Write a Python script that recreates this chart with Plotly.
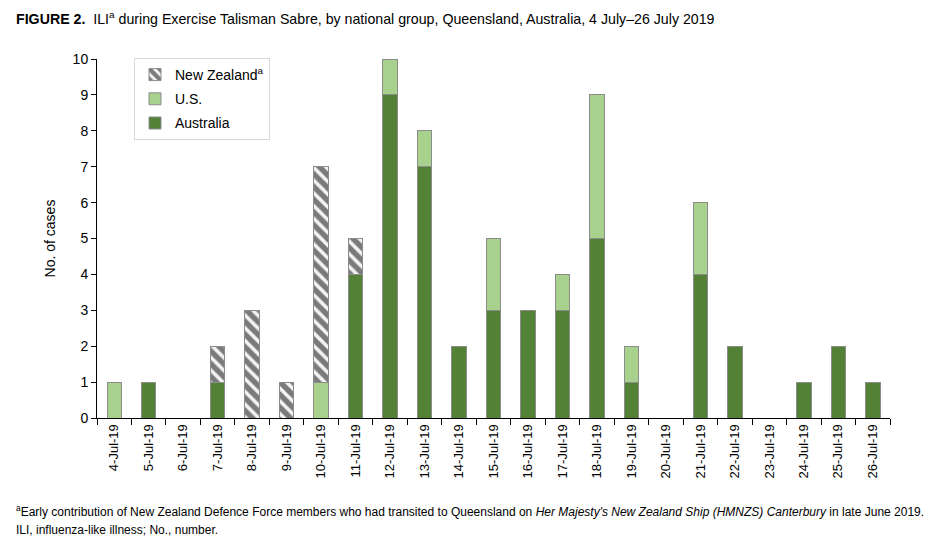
import plotly.graph_objects as go

dates = ["4-Jul-19", "5-Jul-19", "6-Jul-19", "7-Jul-19", "8-Jul-19", "9-Jul-19", "10-Jul-19",
         "11-Jul-19", "12-Jul-19", "13-Jul-19", "14-Jul-19", "15-Jul-19", "16-Jul-19", "17-Jul-19",
         "18-Jul-19", "19-Jul-19", "20-Jul-19", "21-Jul-19", "22-Jul-19", "23-Jul-19", "24-Jul-19",
         "25-Jul-19", "26-Jul-19"]
australia = [0, 1, 0, 1, 0, 0, 0, 4, 9, 7, 2, 3, 3, 3, 5, 1, 0, 4, 2, 0, 1, 2, 1]
us = [1, 0, 0, 0, 0, 0, 1, 0, 1, 1, 0, 2, 0, 1, 4, 1, 0, 2, 0, 0, 0, 0, 0]
new_zealand = [0, 0, 0, 1, 3, 1, 6, 1, 0, 0, 0, 0, 0, 0, 0, 0, 0, 0, 0, 0, 0, 0, 0]
y_ticks = list(range(0, 11))

font = "Liberation Sans, Arial, sans-serif"
narrow = "Liberation Sans Narrow, Arial Narrow, Liberation Sans, Arial, sans-serif"
outline = dict(color="#8c8c8c", width=1)

fig = go.Figure()
fig.add_trace(go.Bar(x=dates, y=australia, name="Australia", legendgroup="au", legendrank=3,
                     marker=dict(color="#538135", line=outline)))
fig.add_trace(go.Bar(x=dates, y=us, name="U.S.", legendgroup="us", legendrank=2,
                     marker=dict(color="#a9d18e", line=outline)))
fig.add_trace(go.Bar(x=dates, y=new_zealand, name="New Zealand<sup>a</sup>", legendgroup="nz",
                     legendrank=1,
                     marker=dict(color="white", line=outline,
                                 pattern=dict(shape="\\", fgcolor="black", bgcolor="#f4f4f4",
                                              size=9, solidity=0.6))))

# plot area in figure pixels: x 89..882, y 51..410 (page body adds 8px offset)
def px(x):
    return (x - 89) / 793

def py(y):
    return (410 - y) / 359

fig.update_layout(
    barmode="stack",
    bargap=0.58,
    width=946, height=551,
    paper_bgcolor="white", plot_bgcolor="white",
    margin=dict(l=89, r=64, t=51, b=141),
    font=dict(family=font, size=13, color="black"),
    showlegend=True,
    legend=dict(x=px(126), y=py(50), xanchor="left", yanchor="top",
                bordercolor="#d9d9d9", borderwidth=1, bgcolor="white",
                traceorder="grouped", tracegroupgap=3,
                font=dict(size=14, family=font), itemwidth=30),
    xaxis=dict(type="category", tickangle=-90, tickfont=dict(size=13),
               showline=True, linecolor="black", linewidth=1,
               ticks="outside", ticklen=6, tickcolor="black",
               tickson="boundaries", showgrid=False),
    yaxis=dict(range=[0, 10], tickvals=y_ticks, showline=True, linecolor="black", linewidth=1,
               ticks="outside", ticklen=5, tickcolor="black", showgrid=False, zeroline=False,
               tickfont=dict(size=14),
               title=dict(text="No. of cases", font=dict(size=14), standoff=13)),
)

fig.add_annotation(xref="paper", yref="paper", x=px(6), y=py(10), xanchor="left", yanchor="middle",
                   showarrow=False, align="left",
                   text="<b>FIGURE 2.</b>  ILI<sup>a</sup> during Exercise Talisman Sabre, by national group, Queensland, Australia, 4 July–26 July 2019",
                   font=dict(size=14.2, family=narrow))
fig.add_annotation(xref="paper", yref="paper", x=px(6), y=py(503), xanchor="left", yanchor="middle",
                   showarrow=False, align="left",
                   text="<sup>a</sup>Early contribution of New Zealand Defence Force members who had transited to Queensland on <i>Her Majesty's New Zealand Ship (HMNZS) Canterbury</i> in late June 2019.",
                   font=dict(size=12, family=narrow))
fig.add_annotation(xref="paper", yref="paper", x=px(6), y=py(522), xanchor="left", yanchor="middle",
                   showarrow=False, align="left",
                   text="ILI, influenza-like illness; No., number.",
                   font=dict(size=12, family=narrow))

fig.write_html("out.html")
